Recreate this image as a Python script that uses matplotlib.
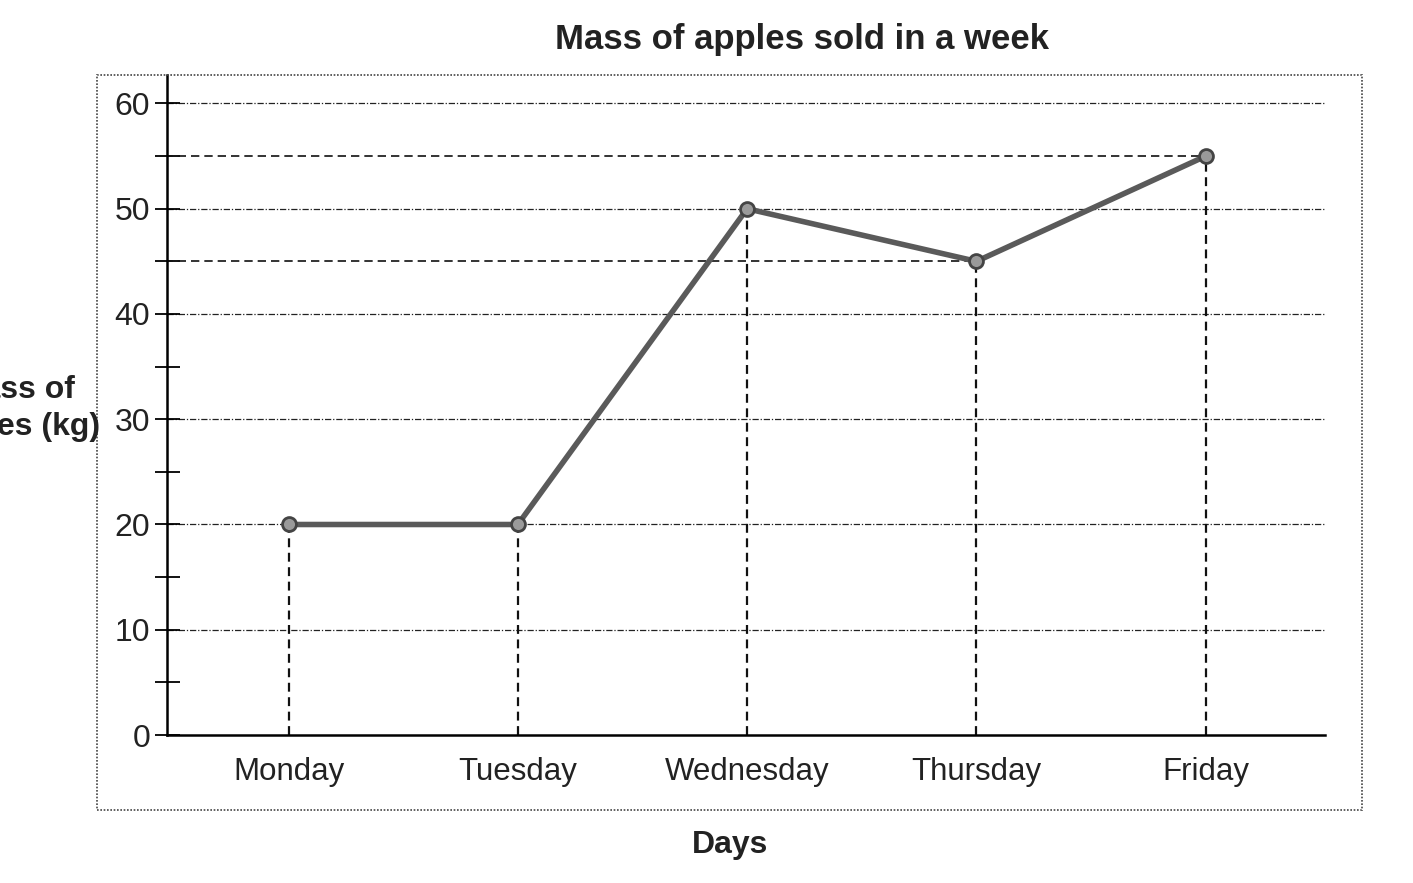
import matplotlib.pyplot as plt
from matplotlib.patches import Rectangle

days = ["Monday", "Tuesday", "Wednesday", "Thursday", "Friday"]
mass_kg = [20, 20, 50, 45, 55]
y_ticks = [0, 10, 20, 30, 40, 50, 60]
y_minor_ticks = [5, 15, 25, 35, 45, 55]


def main() -> None:
    """Draws the line chart of apples sold over the week."""
    plt.rcParams["font.family"] = ["Liberation Sans", "DejaVu Sans"]

    fig = plt.figure(figsize=(14.13, 8.83), dpi=100)
    ax = fig.add_axes([0.1182, 0.1676, 0.8195, 0.7474])

    x = list(range(len(days)))

    # grid lines at the labelled ticks (except the x axis itself)
    for val in y_ticks[1:]:
        ax.axhline(val, color="#222222", lw=0.9, ls=(0, (5, 1.5, 1, 1.5)), zorder=1)

    # reading lines for values that fall between grid lines
    for xi, val in zip(x, mass_kg):
        if val % 10 != 0:
            ax.hlines(val, -0.6, xi, colors="#111111", lw=1.2, linestyles=(0, (5, 3)), zorder=2)
        ax.vlines(xi, 0, val, colors="#111111", lw=1.6, linestyles=(0, (4, 2.5)), zorder=2)

    ax.plot(
        x,
        mass_kg,
        color="#5a5a5a",
        lw=4,
        marker="o",
        markersize=10,
        markerfacecolor="#9a9a9a",
        markeredgecolor="#444444",
        markeredgewidth=2,
        zorder=3,
    )

    ax.set_xlim(-0.53, 4.52)
    ax.set_ylim(0, 62.7)
    ax.set_xticks(x)
    ax.set_xticklabels(days)
    ax.set_yticks(y_ticks)
    ax.set_yticks(y_minor_ticks, minor=True)

    ax.tick_params(axis="x", length=0, pad=16, labelsize=22.5, labelcolor="#222222")
    ax.tick_params(axis="y", which="both", direction="inout", length=18, width=1.3,
                   pad=3, labelsize=23, labelcolor="#222222")

    for side in ["top", "right"]:
        ax.spines[side].set_visible(False)
    ax.spines["left"].set_linewidth(1.8)
    ax.spines["bottom"].set_linewidth(1.8)

    # dotted frame around the chart
    fig.patches.append(
        Rectangle((0.0686, 0.0827), 0.8953, 0.8323, transform=fig.transFigure,
                  fill=False, ec="#444444", lw=1.2, ls=(0, (1, 1)))
    )

    fig.text(0.5676, 0.955, "Mass of apples sold in a week", ha="center", va="center",
             fontsize=25, fontweight="bold", color="#222222")
    fig.text(0.5166, 0.043, "Days", ha="center", va="center",
             fontsize=23, fontweight="bold", color="#222222")
    fig.text(0.0708, 0.537, "Mass of\napples (kg)", ha="right", va="center",
             multialignment="center", fontsize=23, fontweight="bold",
             color="#222222", linespacing=1.3)

    fig.savefig("out.png", dpi=100)


if __name__ == "__main__":
    main()
